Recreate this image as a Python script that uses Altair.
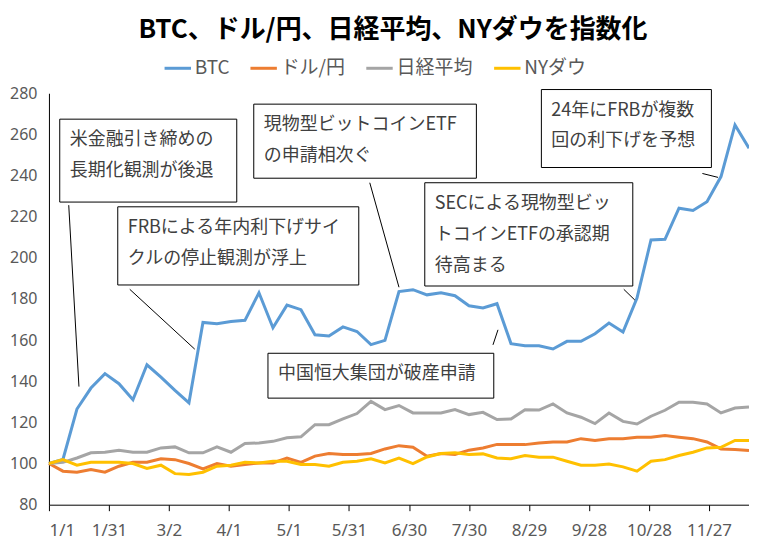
import altair as alt
import pandas as pd

# ---- data ----
series = ["BTC", "ドル/円", "日経平均", "NYダウ"]
colors = ["#5B9BD5", "#ED7D31", "#A5A5A5", "#FFC000"]

# days since 1/1 (weekly observations)
days = list(range(0, 351, 7))

btc = [100, 102, 126.5, 136.7, 143.7, 138.8, 131, 148, 142, 135.6, 129.5, 168.6, 168, 169,
       169.6, 183, 166, 177, 174.8, 162.6, 162, 166.4, 164.2, 157.8, 159.9, 183.6, 184.5, 182,
       183, 181.6, 176.7, 175.6, 177.7, 158.3, 157.3, 157.3, 155.7, 159.4, 159.4, 163.1, 168.3,
       163.9, 180.4, 208.7, 209, 224.1, 223, 227.3, 239.5, 264.6, 253.3]
usdjpy = [100, 96.3, 95.8, 97.1, 95.8, 98.7, 100.6, 100.6, 102.3, 101.9, 100, 97.4, 100, 98.7,
          99.5, 100.3, 100.3, 102.7, 100.6, 103.6, 104.9, 104.4, 104.4, 104.9, 107.1, 108.7,
          107.9, 103.6, 104.9, 104.4, 106.5, 107.6, 109.3, 109.2, 109.2, 110, 110.5, 110.5,
          112.1, 111.2, 112.1, 112.1, 112.8, 112.8, 113.6, 112.8, 112.1, 110.5, 107.1, 106.8, 106.3]
nikkei = [100, 100.6, 102.7, 105.2, 105.5, 106.5, 105.5, 105.5, 107.6, 108.1, 105.2, 105.2, 108.1,
          105.5, 109.7, 110, 110.8, 112.5, 113, 118.9, 118.9, 121.7, 124.3, 130.2, 126.2, 128.2,
          124.6, 124.6, 124.6, 126.2, 123.8, 124.9, 121.4, 121.7, 126.2, 126, 129, 124.6, 122.5,
          119.4, 124.6, 120.5, 119.2, 123, 125.9, 129.8, 129.8, 129, 124.6, 127, 127.5]
nydow = [100, 101.9, 99.2, 100.6, 100.6, 100.6, 100, 97.6, 99.2, 95.1, 94.7, 95.8, 98.7, 99.2,
         100.6, 100.3, 101.1, 101.1, 99.5, 99.5, 98.7, 100.6, 101.1, 102.3, 100.3, 102.7, 100,
         103.2, 104.9, 105.2, 104.4, 104.7, 102.7, 102.3, 103.9, 103.1, 103.1, 101.1, 99.2, 99.2,
         99.8, 98.4, 96.3, 101.1, 101.9, 103.9, 105.5, 107.6, 107.9, 111.2, 111.2]

tick_days = [0, 30, 60, 90, 120, 150, 180, 210, 240, 270, 300, 330]
tick_labels = ["1/1", "1/31", "3/2", "4/1", "5/1", "5/31", "6/30", "7/30", "8/29", "9/28", "10/28", "11/27"]
y_ticks = [80, 100, 120, 140, 160, 180, 200, 220, 240, 260, 280]

# annotations (in data units: day, index value)
ann_text = ["米金融引き締めの\n長期化観測が後退",
            "FRBによる年内利下げサイ\nクルの停止観測が浮上",
            "現物型ビットコインETF\nの申請相次ぐ",
            "SECによる現物型ビッ\nトコインETFの承認期\n待高まる",
            "24年にFRBが複数\n回の利下げを予想",
            "中国恒大集団が破産申請"]
box_x1 = [5.4, 34.4, 102.4, 187.9, 246.2, 109.5]
box_x2 = [93.9, 154.9, 213.7, 291.9, 331.2, 222.4]
box_top = [267.4, 224.8, 274.7, 236.5, 281.8, 153.6]
box_bottom = [227.1, 186.8, 238.7, 186.3, 243.9, 131.8]
lead_x1 = [9.9, 40.4, 160.4, 287.4, 326.7, 222.0]
lead_y1 = [225.6, 184.7, 236.5, 184.7, 241.0, 157.7]
lead_x2 = [15.0, 72.9, 175.0, 292.9, 334.5, 224.5]
lead_y2 = [137.4, 155.6, 185.7, 179.5, 239.1, 165.0]

# ---- tables ----
rows = []
for name, vals in zip(series, [btc, usdjpy, nikkei, nydow]):
    for d, v in zip(days, vals):
        rows.append({"day": d, "value": v, "series": name})
df = pd.DataFrame(rows)

ann = pd.DataFrame({"label": ann_text, "x1": box_x1, "x2": box_x2, "y1": box_top, "y2": box_bottom,
                    "lx1": lead_x1, "ly1": lead_y1, "lx2": lead_x2, "ly2": lead_y2})

label_expr = "[" + ",".join("'%s'" % t for t in tick_labels) + "][round(datum.value/30)]"

xscale = alt.Scale(domain=[0, 350], nice=False, zero=False)
yscale = alt.Scale(domain=[80, 280], nice=False, zero=False)

lines = alt.Chart(df).mark_line(strokeWidth=3).encode(
    x=alt.X("day:Q", scale=xscale, title=None,
            axis=alt.Axis(values=tick_days, labelExpr=label_expr, ticks=True, tickSize=6,
                          labelPadding=12, labelFontSize=17, grid=False)),
    y=alt.Y("value:Q", scale=yscale, title=None,
            axis=alt.Axis(values=y_ticks, ticks=False, labelPadding=12, labelFontSize=16,
                          grid=False)),
    color=alt.Color("series:N", scale=alt.Scale(domain=series, range=colors),
                    legend=alt.Legend(title=None, orient="none", legendX=114, legendY=-40,
                                      direction="horizontal", symbolType="stroke",
                                      symbolSize=700, symbolStrokeWidth=3,
                                      labelFontSize=19, labelColor="#595959",
                                      labelFont="Noto Sans CJK JP", labelOffset=2,
                                      columnPadding=14)),
)

boxes = alt.Chart(ann).mark_rect(fill="white", stroke="black", strokeWidth=1).encode(
    x=alt.X("x1:Q", title=None), x2="x2:Q",
    y=alt.Y("y1:Q", title=None), y2="y2:Q",
)

leaders = alt.Chart(ann).mark_rule(color="black", strokeWidth=1).encode(
    x=alt.X("lx1:Q", title=None), x2="lx2:Q",
    y=alt.Y("ly1:Q", title=None), y2="ly2:Q",
)

texts = alt.Chart(ann).mark_text(align="left", baseline="top", dx=10, dy=12, lineBreak="\n",
                                 lineHeight=31, fontSize=18, font="Noto Sans CJK JP",
                                 color="#404040").encode(
    x=alt.X("x1:Q", title=None), y=alt.Y("y1:Q", title=None), text="label:N",
)

chart = alt.layer(lines, leaders, boxes, texts).properties(
    width=701, height=412,
    autosize=alt.AutoSizeParams(type="none"),
    padding={"left": 41, "top": 85, "right": 0, "bottom": 40},
    title=alt.TitleParams(text="BTC、ドル/円、日経平均、NYダウを指数化", fontSize=26,
                          font="Noto Sans CJK JP", fontWeight="bold", color="black",
                          anchor="middle", dx=-6, offset=10),
).configure_view(stroke=None).configure_axis(
    domainColor="black", domainWidth=1, tickColor="black", labelColor="#595959",
    labelFont="Noto Sans",
)

chart.save("out.html", embed_options={"renderer": "svg", "actions": False})
